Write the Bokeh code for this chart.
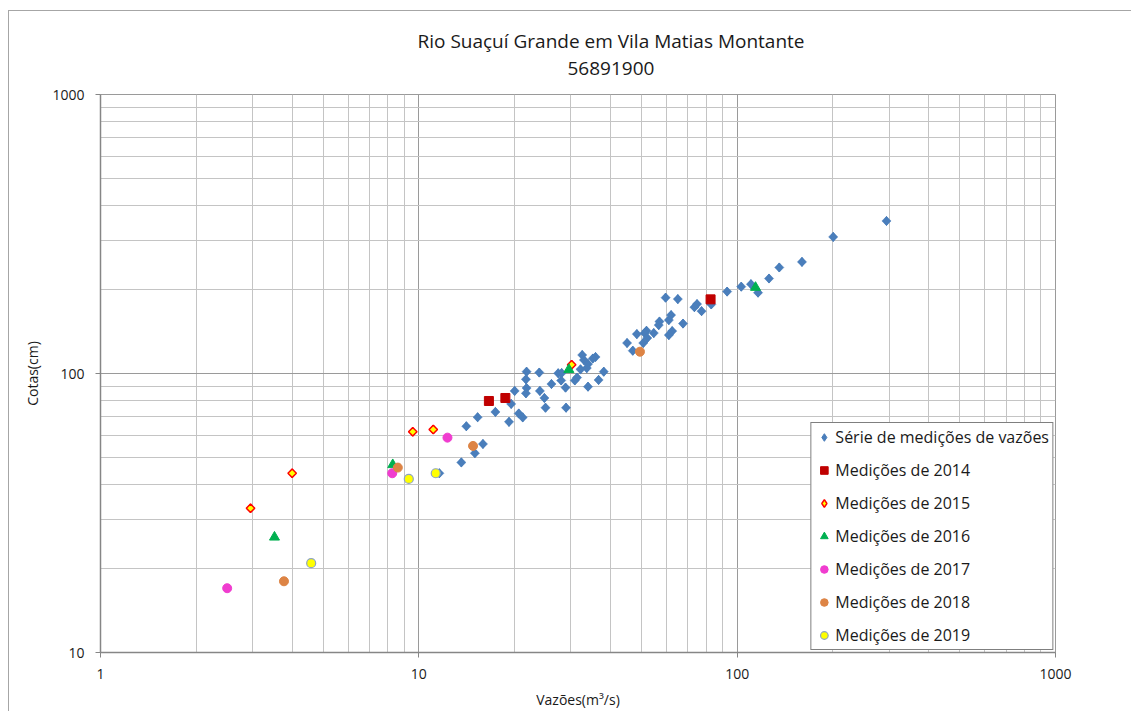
import numpy as np
from bokeh.plotting import figure
from bokeh.models import (FixedTicker, Legend, LegendItem, Title, PrintfTickFormatter, Range1d)
from bokeh.embed import file_html
from bokeh.resources import INLINE

# ---------------- data ----------------
serie_q = [294.5, 200.3, 159.8, 135.6, 125.9, 110.5, 103.0, 116.3, 93.0, 82.9,
           77.3, 74.8, 73.4, 59.6, 65.1, 62.0, 61.0, 57.0, 56.7, 67.6,
           62.5, 61.0, 54.7, 51.9, 51.2, 52.2, 50.7, 48.4, 45.1, 47.0,
           32.6, 33.0, 34.0, 33.7, 35.9, 35.2, 32.2, 38.1, 31.4, 30.9,
           36.7, 34.0, 27.4, 28.1, 28.0, 28.9, 26.1, 23.9, 21.8, 21.7,
           21.8, 21.7, 24.0, 24.8, 20.0, 19.5, 25.0, 29.0, 20.6, 21.2,
           19.2, 17.4, 15.3, 14.1, 15.9, 15.0, 13.6, 11.6]
serie_h = [352.1, 308.7, 251.2, 239.9, 219.0, 209.0, 204.8, 194.9, 196.6, 176.8,
           167.3, 177.3, 172.9, 187.0, 184.8, 161.9, 155.4, 153.5, 149.1, 151.0,
           141.9, 137.3, 139.6, 142.3, 139.6, 134.0, 128.6, 138.4, 128.6, 120.7,
           116.5, 111.8, 108.1, 104.6, 114.6, 113.2, 103.5, 101.5, 96.7, 94.4,
           94.8, 89.7, 100.2, 100.4, 94.4, 89.0, 91.7, 100.8, 101.5, 95.3,
           88.7, 84.9, 86.6, 81.7, 86.6, 77.8, 75.4, 75.4, 71.9, 69.6,
           67.1, 72.8, 69.7, 64.7, 55.9, 51.8, 48.0, 43.9]

q2014 = [16.6, 18.7, 82.5]
h2014 = [79.7, 81.7, 184.4]
q2015 = [30.2, 11.1, 9.57, 4.0, 2.96]
h2015 = [107.5, 63.0, 61.8, 43.9, 32.9]
q2016 = [114.2, 29.6, 8.28, 3.52]
h2016 = [203.4, 103.3, 47.1, 25.9]
q2017 = [12.3, 8.25, 2.50]
h2017 = [58.9, 43.9, 17.0]
q2018 = [49.5, 14.8, 8.59, 3.77]
h2018 = [119.7, 55.0, 46.0, 18.0]
q2019 = [9.30, 11.3, 4.59]
h2019 = [41.9, 43.9, 20.9]

titulo1 = "Rio Suaçuí Grande em Vila Matias Montante"
titulo2 = "56891900"
x_label = "Vazões(m³/s)"
y_label = "Cotas(cm)"
x_major = [1, 10, 100, 1000]
y_major = [10, 100, 1000]
names = ["Série de medições de vazões", "Medições de 2014", "Medições de 2015",
         "Medições de 2016", "Medições de 2017", "Medições de 2018", "Medições de 2019"]

FONT = "Open Sans"
EDGE = "#a6a6a6"

# ---------------- figure ----------------
p = figure(width=1131, height=711, x_axis_type="log", y_axis_type="log",
           x_range=Range1d(1, 1000), y_range=Range1d(10, 1000),
           output_backend="svg", toolbar_location=None,
           min_border_left=100, min_border_right=76, min_border_top=94, min_border_bottom=58,
           background_fill_color="white", border_fill_color="white", border_fill_alpha=0.0)
# chart-area edge (left and top), like the spreadsheet chart box
p.styles = {"background": (f"linear-gradient({EDGE},{EDGE}) 8px 10px / 1px 100% no-repeat, "
                           f"linear-gradient({EDGE},{EDGE}) 8px 10px / 100% 1px no-repeat, white")}
p.outline_line_color = "#9a9a9a"

x_minor = [m * d for d in (1, 10, 100) for m in range(2, 10)]
y_minor = [m * d for d in (10, 100) for m in range(2, 10)]
p.xaxis.ticker = FixedTicker(ticks=x_major, minor_ticks=x_minor)
p.yaxis.ticker = FixedTicker(ticks=y_major, minor_ticks=y_minor)
p.xgrid.ticker = p.xaxis.ticker
p.ygrid.ticker = p.yaxis.ticker
for g in (p.xgrid, p.ygrid):
    g.grid_line_color = "#9a9a9a"
    g.grid_line_width = 1
    g.minor_grid_line_color = "#c4c4c4"
    g.minor_grid_line_width = 1

for ax in (p.xaxis, p.yaxis):
    ax.formatter = PrintfTickFormatter(format="%d")
    ax.axis_line_color = "#868686"
    ax.axis_line_width = 1.5
    ax.major_tick_line_color = "#868686"
    ax.major_tick_out = 5
    ax.major_tick_in = 0
    ax.minor_tick_out = 0
    ax.minor_tick_in = 0
    ax.major_label_text_font = FONT
    ax.major_label_text_font_size = "14px"
    ax.major_label_text_color = "#1a1a1a"
    ax.axis_label_text_font = FONT
    ax.axis_label_text_font_size = "14px"
    ax.axis_label_text_font_style = "normal"
    ax.axis_label_text_color = "#1a1a1a"

p.xaxis.axis_label = x_label
p.yaxis.axis_label = y_label
p.xaxis.major_label_standoff = 11
p.xaxis.axis_label_standoff = 8
p.yaxis.major_label_standoff = 11
p.yaxis.axis_label_standoff = 7

# ---------------- glyphs ----------------
# narrow diamonds underneath (used as legend keys), covered by the rotated squares
k0 = p.scatter(serie_q, serie_h, marker="diamond", size=9,
               fill_color="#4a7ebb", line_color="#4a7ebb")
r0 = p.scatter(serie_q, serie_h, marker="square", angle=np.pi / 4, size=6.5,
               fill_color="#4a7ebb", line_color="#4a7ebb", line_width=0.5)
r1 = p.scatter(q2014, h2014, marker="square", size=9,
               fill_color="#c00000", line_color="#c00000")
k2 = p.scatter(q2015, h2015, marker="diamond", size=8,
               fill_color="#ffff00", line_color="#ff0000", line_width=1.5)
r2 = p.scatter(q2015, h2015, marker="square", angle=np.pi / 4, size=6,
               fill_color="#ffff00", line_color="#ff0000", line_width=1.5)
r3 = p.scatter(q2016, h2016, marker="triangle", size=10,
               fill_color="#00b050", line_color="#00b050")
r4 = p.scatter(q2017, h2017, marker="circle", size=9,
               fill_color="#f03ccf", line_color="#f03ccf")
r5 = p.scatter(q2018, h2018, marker="circle", size=9,
               fill_color="#dd8445", line_color="#dd8445")
r6 = p.scatter(q2019, h2019, marker="circle", size=9,
               fill_color="#ffff00", line_color="#8ea4c0", line_width=1.2)

legend = Legend(items=[LegendItem(label=n, renderers=[r]) for n, r in
                       zip(names, [k0, r1, k2, r3, r4, r5, r6])],
                location="bottom_right", margin=2, padding=3,
                border_line_color="black", border_line_width=1,
                background_fill_color="white", background_fill_alpha=1.0,
                label_text_font=FONT, label_text_font_size="16px",
                label_text_color="#1a1a1a",
                glyph_width=19, glyph_height=22, label_height=22,
                spacing=11, label_standoff=2)
p.add_layout(legend)

# ---------------- title ----------------
p.add_layout(Title(text=" ", text_font_size="2px", standoff=13), "above")
p.add_layout(Title(text=titulo2, align="left", offset=467, standoff=6,
                   text_font=FONT, text_font_size="19px", text_font_style="normal",
                   text_color="#1a1a1a"), "above")
p.add_layout(Title(text=titulo1, align="left", offset=317, standoff=6,
                   text_font=FONT, text_font_size="19px", text_font_style="normal",
                   text_color="#1a1a1a"), "above")

open("out.html", "w").write(file_html(p, INLINE))
